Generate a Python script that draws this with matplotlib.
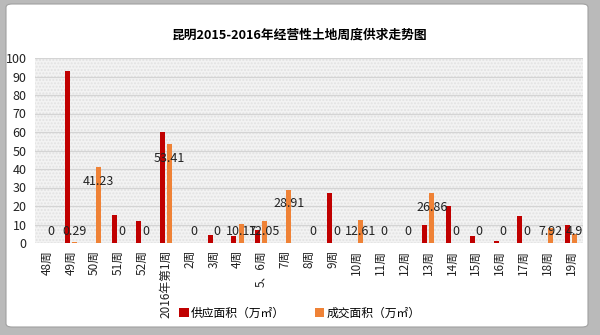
import matplotlib
matplotlib.use("Agg")
import matplotlib.pyplot as plt
from matplotlib.patches import FancyBboxPatch, Rectangle
import numpy as np

plt.rcParams['font.family'] = ['Noto Sans CJK SC', 'DejaVu Sans']

weeks = ["48周", "49周", "50周", "51周", "52周", "2016年第1周", "2周", "3周", "4周",
         "5、6周", "7周", "8周", "9周", "10周", "11周", "12周", "13周", "14周",
         "15周", "16周", "17周", "18周", "19周"]
supply = [0, 93, 0, 15, 12, 60, 0, 4.5, 3.8, 6.9, 0, 0, 27, 0, 0, 0, 10, 20.1,
          3.6, 0.9, 14.5, 0, 9.6]
deal = [0, 0.29, 41.23, 0, 0, 53.41, 0, 0, 10.17, 12.05, 28.91, 0, 0, 12.61,
        0, 0, 26.86, 0, 0, 0, 0, 7.92, 4.9]

W, H = 600, 335
fig = plt.figure(figsize=(W / 100, H / 100), dpi=100)
fig.patch.set_facecolor('#bababa')

# white card behind everything
card = FancyBboxPatch((6 / W, 8 / H), 582 / W, 323 / H,
                      boxstyle="round,pad=0,rounding_size=0.01",
                      transform=fig.transFigure, facecolor='white',
                      edgecolor='#a0a0a0', linewidth=0.8, zorder=-10)
fig.patches.append(card)

ax = fig.add_axes([35 / W, (H - 243) / H, 548 / W, 185 / H])
ax.set_facecolor('#f3f3f3')
ax.add_patch(Rectangle((0, 0), 1, 1, transform=ax.transAxes, facecolor='none',
                       edgecolor='#e2e2e2', hatch='.....', linewidth=0, zorder=0))

x = np.arange(len(weeks))
bw = 0.21
ax.bar(x - 0.15, supply, bw, color='#c00000', label='供应面积（万㎡）', zorder=3)
ax.bar(x + 0.15, deal, bw, color='#ef8236', label='成交面积（万㎡）', zorder=3)

for xi, v in zip(x, deal):
    lab = f"{v:g}"
    ax.text(xi + 0.15, max(v - 7.8, 6), lab, ha='center', va='center',
            fontsize=9, color='#222222', zorder=4)

ax.set_ylim(0, 100)
ax.set_xlim(-0.5, len(weeks) - 0.5)
ax.set_yticks(range(0, 101, 10))
ax.yaxis.grid(True, color='#d4d4d4', linewidth=0.9, zorder=1)
ax.set_axisbelow(True)
ax.set_xticks(x)
ax.set_xticklabels(weeks, rotation=90)
ax.tick_params(axis='both', length=0, colors='#222222')
ax.tick_params(axis='y', labelsize=9, pad=6)
ax.tick_params(axis='x', labelsize=8.5, pad=5)
for s in ax.spines.values():
    s.set_visible(False)

fig.text(0.5, (H - 35) / H, "昆明2015-2016年经营性土地周度供求走势图",
         ha='center', va='center', fontsize=9.2, fontweight='bold')

fig.legend(loc='center', bbox_to_anchor=(0.5, (H - 313) / H), ncol=2,
           frameon=False, fontsize=8.5, handlelength=0.8, handleheight=0.8,
           handletextpad=0.2, columnspacing=2.5)

fig.savefig("out.png", dpi=100, facecolor=fig.get_facecolor())
